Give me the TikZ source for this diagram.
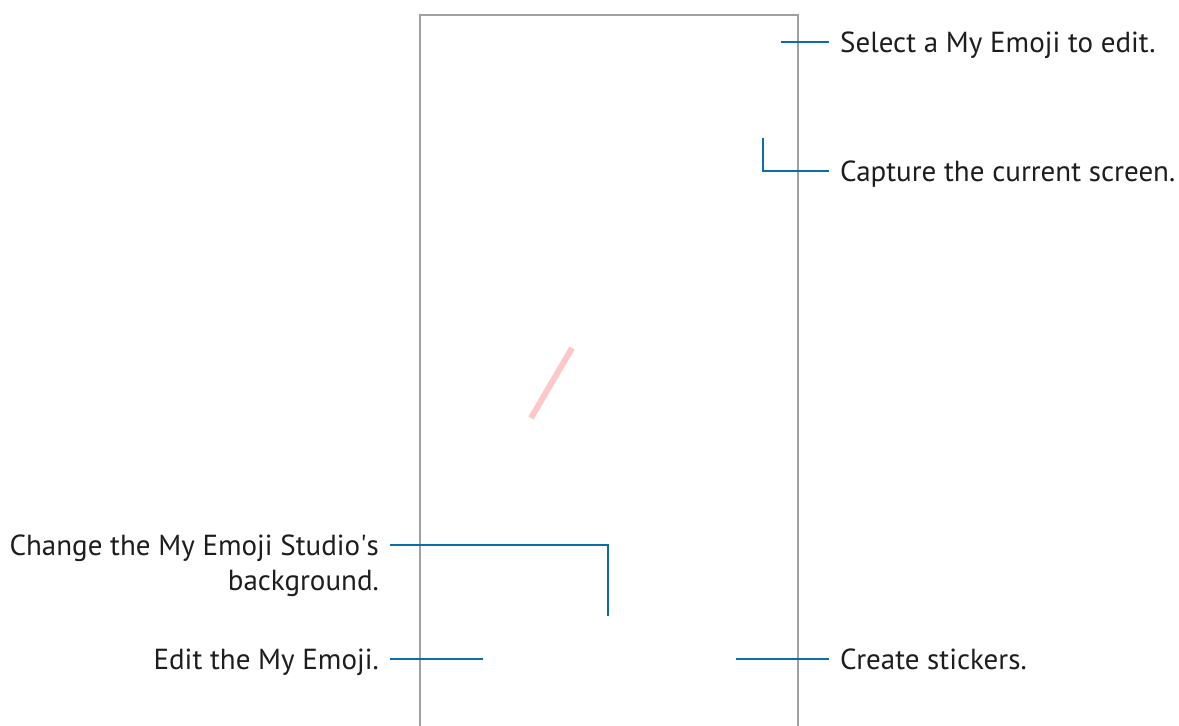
\documentclass[tikz,border=0pt]{standalone}
\usepackage{fontspec}
\setmainfont{PT Sans}
\usetikzlibrary{positioning}
\definecolor{leadblue}{RGB}{10,110,172}
\definecolor{framegray}{RGB}{160,160,160}
\definecolor{txtgray}{RGB}{30,28,28}
\definecolor{markpink}{RGB}{255,200,200}

\begin{document}
\begin{tikzpicture}[
      x=1pt, y=-1pt,
      every node/.style={font=\fontsize{29}{33}\selectfont, text=txtgray},
      lbl/.style={inner xsep=11pt, inner ysep=0pt, text height=21pt, text depth=0pt},
      lead/.style={draw=leadblue, line width=2.4pt},
      frame/.style={draw=framegray, line width=1.1pt},
    ]
    \useasboundingbox (0,0) rectangle (1179,726);

    % phone outline and marker
    \draw[frame] (420,726) |- (798,15) -- (798,726);
    \draw[markpink, line width=6pt] (531,418) -- (572,348);

    % labels on the right
    \node[lbl, anchor=west] (sel) at (829,42) {Select a My Emoji to edit.};
    \node[lbl, anchor=west] (cap) at (829,171) {Capture the current screen.};
    \node[lbl, anchor=west] (crt) at (829,659) {Create stickers.};

    % labels on the left
    \node[lbl, anchor=east] (chg) at (390,545) {Change the My Emoji Studio\textquotesingle s};
    \node[lbl, anchor=north east] (chgb) at ([yshift=-14pt]chg.south east) {background.};
    \node[lbl, anchor=east] (edt) at (390,659) {Edit the My Emoji.};

    \coordinate (selend) at (781,42);
    \coordinate (capend) at (763,138);
    \coordinate (crtend) at (736,659);
    \coordinate (chgend) at (608,616);
    \coordinate (edtend) at (483,659);

    \draw[lead] (sel.west) -- (selend);
    \draw[lead] (cap.west) -| (capend);
    \draw[lead] (crt.west) -- (crtend);
    \draw[lead] (chg.east) -| (chgend);
    \draw[lead] (edt.east) -- (edtend);
  \end{tikzpicture}
\end{document}
